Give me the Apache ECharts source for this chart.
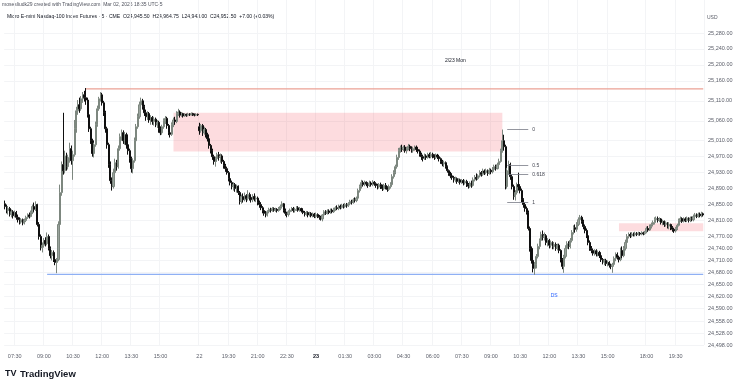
<!DOCTYPE html>
<html><head><meta charset="utf-8">
<script src="https://cdn.jsdelivr.net/npm/echarts@6/dist/echarts.min.js"></script>
<style>html,body{margin:0;padding:0;background:#fff}#c{width:740px;height:386px}</style>
</head><body><div id="c"></div>
<script>
// ---- sessions (5-minute bars) ----
const sessions = [
  {day:'2/20', start:'07:00', bars:120},
  {day:'2/22', start:'18:00', bars:72},
  {day:'2/23', start:'00:00', bars:204},
  {day:'2/23', start:'18:00', bars:36}
];
const categories = [];
sessions.forEach(s => {
  const [h0, m0] = s.start.split(':').map(Number);
  for (let k = 0; k < s.bars; k++) {
    const t = h0 * 60 + m0 + k * 5;
    const hh = String(Math.floor(t / 60)).padStart(2, '0'), mm = String(t % 60).padStart(2, '0');
    categories.push(s.day + ' ' + hh + ':' + mm);
  }
});

// x tick labels
const tickCats = ['2/20 07:30','2/20 09:00','2/20 10:30','2/20 12:00','2/20 13:30','2/20 15:00','2/22 18:00','2/22 19:30','2/22 21:00','2/22 22:30','2/23 00:00','2/23 01:30','2/23 03:00','2/23 04:30','2/23 06:00','2/23 07:30','2/23 09:00','2/23 10:30','2/23 12:00','2/23 13:30','2/23 15:00','2/23 18:00','2/23 19:30'];
const tickTexts = ['07:30','09:00','10:30','12:00','13:30','15:00','22','19:30','21:00','22:30','23','01:30','03:00','04:30','06:00','07:30','09:00','10:30','12:00','13:30','15:00','18:00','19:30'];
const boldTicks = ['23'];

// y tick labels
const priceTicks = [25280,25240,25200,25160,25110,25060,25010,24970,24930,24890,24850,24810,24770,24740,24710,24680,24650,24620,24590,24558,24528,24498];

// ---- OHLC bars: [open, close, low, high] ----
const fridayBars = [
[24852,24845,24838,24860],[24845,24835,24828,24850],[24835,24840,24825,24846],[24840,24826,24820,24844],[24826,24832,24818,24838],
[24832,24822,24815,24836],[24822,24830,24818,24835],[24830,24818,24812,24834],[24818,24812,24805,24825],[24812,24806,24800,24818],
[24806,24812,24802,24816],[24812,24804,24798,24815],[24804,24810,24800,24815],[24810,24818,24806,24822],[24818,24824,24814,24828],
[24824,24820,24815,24830],[24820,24830,24818,24835],[24830,24845,24826,24850],[24845,24838,24832,24855],[24838,24850,24834,24858],
[24850,24800,24795,24852],[24800,24770,24762,24806],[24770,24742,24735,24775],[24742,24748,24730,24755],[24748,24760,24742,24766],
[24760,24752,24745,24768],[24752,24770,24748,24780],[24770,24740,24735,24775],[24740,24722,24715,24745],[24722,24730,24710,24736],
[24730,24712,24706,24735],[24712,24705,24698,24718],[24705,24712,24678,24716],[24712,24800,24708,24808],[24800,24880,24795,24900],
[24880,24950,24872,24958],[24950,24935,24925,25080],[24935,24972,24928,24985],[24972,24945,24935,24980],[24945,24968,24938,24975],
[24968,24990,24955,25005],[24990,24960,24950,24998],[24960,24975,24912,24985],[24975,25040,24970,25062],[25040,25085,25030,25095],
[25085,25100,25075,25112],[25100,25090,25080,25118],[25090,25115,25085,25122],[25115,25125,25105,25132],[25125,25118,25108,25135],
[25118,25112,25100,25142],[25112,25075,25068,25118],[25075,25040,25032,25080],[25040,25010,25002,25045],[25010,24978,24970,25015],
[24978,25000,24968,25005],[25000,25050,24995,25058],[25050,25090,25045,25098],[25090,25115,25085,25120],[25115,25125,25108,25132],
[25125,25105,25098,25130],[25105,25080,25072,25110],[25080,25040,25030,25085],[25040,25000,24990,25045],[25000,24950,24942,25005],
[24950,24910,24902,24958],[24910,24895,24885,24918],[24895,24930,24890,24940],[24930,24955,24925,24965],[24955,24945,24935,24962],
[24945,24990,24940,24998],[24990,25020,24985,25028],[25020,25030,25010,25038],[25030,25010,25002,25036],[25010,25025,25000,25032],
[25025,25000,24990,25030],[25000,24985,24975,25008],[24985,24965,24955,24990],[24965,24940,24930,24970],[24940,24960,24928,24966],
[24960,25010,24955,25018],[25010,25045,25005,25052],[25045,25070,25040,25078],[25070,25100,25065,25108],[25100,25110,25095,25118],
[25110,25095,25088,25115],[25095,25080,25072,25100],[25080,25070,25060,25088],[25070,25078,25062,25084],[25078,25062,25055,25082],
[25062,25068,25050,25074],[25068,25058,25050,25072],[25058,25064,25048,25070],[25064,25050,25044,25068],[25050,25056,25042,25062],
[25056,25040,25030,25060],[25040,25030,25024,25046],[25030,25045,25025,25050],[25045,25060,25040,25066],[25060,25066,25052,25072],
[25066,25048,25040,25070],[25048,25030,25024,25052],[25030,25026,25018,25040],[25026,25050,25022,25056],[25050,25062,25044,25068],
[25062,25058,25050,25070],[25058,25078,25054,25084],[25078,25082,25072,25090],[25082,25074,25068,25086],[25074,25078,25070,25082],
[25078,25072,25068,25080],[25072,25076,25070,25079],[25076,25074,25070,25078],[25074,25077,25071,25080],[25077,25075,25072,25079],
[25075,25078,25073,25081],[25078,25076,25072,25080],[25076,25074,25071,25078],[25074,25076,25072,25079],[25076,25075,25072,25078]
];
const sundayBars = [
[25045,25035,25025,25055],[25035,25048,25030,25052],[25048,25030,25022,25052],[25030,25038,25025,25045],[25038,25025,25018,25042],
[25025,25015,25008,25030],[25015,24998,24990,25020],[24998,24985,24978,25002],[24985,24970,24962,24990],[24970,24958,24950,24975],
[24958,24965,24945,24970],[24965,24975,24958,24980],[24975,24968,24960,24982],[24968,24972,24955,24978],[24972,24958,24952,24976],
[24958,24948,24940,24962],[24948,24940,24932,24952],[24940,24930,24925,24945],[24930,24915,24908,24934],[24915,24905,24898,24920],
[24905,24895,24888,24910],[24895,24900,24885,24906],[24900,24890,24882,24904],[24890,24896,24880,24900],[24896,24880,24874,24898],
[24880,24858,24850,24884],[24858,24870,24852,24875],[24870,24862,24855,24878],[24862,24872,24858,24880],[24872,24865,24856,24876],
[24865,24875,24860,24886],[24875,24868,24860,24880],[24868,24862,24855,24874],[24862,24870,24856,24876],[24870,24864,24858,24878],
[24864,24866,24856,24872],[24866,24855,24848,24870],[24855,24850,24842,24860],[24850,24842,24836,24856],[24842,24835,24828,24846],
[24835,24828,24822,24840],[24828,24824,24818,24834],[24824,24832,24820,24836],[24832,24838,24828,24842],[24838,24835,24830,24842],
[24835,24840,24832,24844],[24840,24836,24832,24843],[24836,24838,24832,24842],[24838,24835,24830,24841],[24835,24840,24832,24844],
[24840,24845,24836,24850],[24845,24852,24840,24858],[24852,24835,24830,24854],[24835,24828,24822,24840],[24828,24825,24818,24832],
[24825,24832,24820,24836],[24832,24836,24826,24840],[24836,24840,24832,24844],[24840,24835,24830,24844],[24835,24838,24830,24842],
[24838,24842,24834,24846],[24842,24836,24832,24846],[24836,24840,24832,24844],[24840,24834,24830,24842],[24834,24830,24826,24838],
[24830,24826,24820,24834],[24826,24830,24822,24834],[24830,24824,24818,24833],[24824,24828,24820,24832],[24828,24822,24818,24831],
[24822,24826,24818,24830],[24826,24820,24816,24829]
];
const mondayBars = [
[24820,24825,24816,24830],[24825,24820,24816,24828],[24820,24818,24812,24824],[24818,24814,24810,24822],[24814,24824,24808,24826],
[24824,24832,24820,24836],[24832,24828,24824,24836],[24828,24834,24825,24838],[24834,24830,24826,24838],[24830,24836,24827,24840],
[24836,24832,24828,24840],[24832,24838,24829,24842],[24838,24842,24834,24846],[24842,24840,24836,24848],[24840,24846,24836,24850],
[24846,24843,24838,24850],[24843,24848,24840,24852],[24848,24845,24840,24852],[24845,24850,24842,24854],[24850,24847,24842,24854],
[24847,24852,24844,24856],[24852,24858,24848,24862],[24858,24855,24850,24862],[24855,24862,24852,24866],[24862,24860,24855,24868],
[24860,24866,24856,24870],[24866,24885,24862,24890],[24885,24895,24880,24900],[24895,24905,24890,24912],[24905,24900,24895,24910],
[24900,24906,24896,24910],[24906,24902,24896,24908],[24902,24898,24892,24906],[24898,24904,24894,24910],[24904,24900,24895,24908],
[24900,24906,24896,24911],[24906,24902,24897,24909],[24902,24898,24892,24906],[24898,24894,24888,24902],[24894,24900,24890,24904],
[24900,24895,24889,24905],[24895,24890,24884,24900],[24890,24898,24886,24902],[24898,24892,24888,24904],[24892,24888,24882,24896],
[24888,24895,24884,24900],[24895,24900,24890,24906],[24900,24920,24896,24926],[24920,24930,24915,24936],[24930,24945,24926,24950],
[24945,24968,24940,24975],[24968,24985,24962,24992],[24985,24992,24980,24998],[24992,24988,24982,25000],[24988,24994,24984,24998],
[24994,24985,24980,24999],[24985,24990,24978,24995],[24990,24996,24986,25002],[24996,24990,24984,25000],[24990,24985,24980,24996],
[24985,24990,24980,24995],[24990,24994,24985,24998],[24994,24988,24982,24998],[24988,24984,24978,24992],[24984,24976,24970,24988],
[24976,24970,24962,24980],[24970,24966,24958,24975],[24966,24972,24962,24978],[24972,24968,24962,24976],[24968,24975,24965,24980],
[24975,24970,24966,24980],[24970,24976,24966,24982],[24976,24972,24966,24980],[24972,24968,24962,24976],[24968,24974,24964,24978],
[24974,24970,24964,24977],[24970,24965,24958,24974],[24965,24958,24952,24968],[24958,24952,24946,24962],[24952,24955,24944,24960],
[24955,24945,24940,24958],[24945,24935,24930,24948],[24935,24928,24922,24938],[24928,24922,24916,24932],[24922,24918,24912,24926],
[24918,24912,24905,24922],[24912,24915,24906,24920],[24915,24908,24902,24918],[24908,24912,24904,24916],[24912,24906,24900,24915],
[24906,24910,24902,24914],[24910,24904,24898,24914],[24904,24908,24900,24912],[24908,24900,24894,24912],[24900,24896,24890,24904],
[24896,24904,24892,24908],[24904,24898,24892,24910],[24898,24912,24895,24918],[24912,24918,24908,24924],[24918,24915,24910,24928],
[24915,24922,24912,24926],[24922,24930,24918,24936],[24930,24926,24920,24934],[24926,24934,24922,24940],[24934,24930,24924,24938],
[24930,24935,24926,24940],[24935,24928,24922,24938],[24928,24936,24925,24942],[24936,24932,24926,24940],[24932,24938,24928,24944],
[24938,24945,24934,24950],[24945,24940,24935,24950],[24940,24950,24938,24955],[24950,24958,24945,24965],[24958,24985,24955,24990],
[24985,25010,24980,25038],[25010,24995,24985,25025],[24995,24895,24888,25000],[24895,24935,24890,24942],[24935,24950,24925,24960],
[24950,24920,24912,24955],[24920,24895,24888,24925],[24895,24870,24862,24900],[24870,24880,24860,24886],[24880,24900,24875,24905],
[24900,24895,24885,24930],[24895,24885,24878,24900],[24885,24862,24856,24890],[24862,24850,24842,24866],[24850,24840,24832,24855],
[24840,24830,24825,24845],[24830,24790,24785,24835],[24790,24740,24732,24795],[24740,24710,24702,24745],[24710,24690,24680,24716],
[24690,24700,24674,24706],[24700,24720,24690,24726],[24720,24745,24715,24752],[24745,24760,24738,24765],[24760,24775,24752,24782],
[24775,24768,24760,24785],[24768,24772,24760,24780],[24772,24755,24748,24776],[24755,24760,24745,24766],[24760,24748,24740,24764],
[24748,24755,24742,24760],[24755,24745,24738,24758],[24745,24750,24738,24756],[24750,24740,24734,24755],[24740,24748,24735,24752],
[24748,24735,24728,24752],[24735,24712,24705,24738],[24712,24695,24688,24716],[24695,24720,24679,24724],[24720,24740,24715,24748],
[24740,24752,24735,24758],[24752,24745,24738,24758],[24745,24760,24740,24766],[24760,24780,24755,24786],[24780,24792,24775,24798],
[24792,24788,24780,24800],[24788,24800,24782,24806],[24800,24812,24796,24818],[24812,24818,24806,24824],[24818,24808,24802,24822],
[24808,24795,24788,24812],[24795,24785,24778,24800],[24785,24772,24766,24790],[24772,24755,24748,24776],[24755,24740,24734,24760],
[24740,24735,24728,24746],[24735,24728,24722,24740],[24728,24734,24722,24738],[24734,24726,24720,24738],[24726,24730,24720,24735],
[24730,24722,24716,24734],[24722,24712,24706,24726],[24712,24706,24700,24716],[24706,24710,24698,24714],[24710,24702,24696,24714],
[24702,24705,24695,24710],[24705,24698,24692,24708],[24698,24695,24688,24702],[24695,24700,24679,24704],[24700,24715,24696,24720],
[24715,24725,24708,24730],[24725,24718,24712,24730],[24718,24712,24705,24722],[24712,24735,24708,24742],[24735,24722,24716,24745],
[24722,24740,24718,24746],[24740,24755,24735,24762],[24755,24770,24750,24776],[24770,24775,24765,24780],[24775,24772,24766,24780],
[24772,24776,24768,24781],[24776,24774,24770,24780],[24774,24778,24770,24782],[24778,24775,24771,24781],[24775,24778,24772,24782],
[24778,24776,24772,24781],[24776,24779,24773,24783],[24779,24777,24773,24782],[24777,24780,24774,24784]
];
const mondayEveningBars = [
[24782,24790,24778,24795],[24790,24786,24782,24796],[24786,24795,24784,24800],[24795,24800,24790,24805],[24800,24805,24795,24810],
[24805,24812,24800,24818],[24812,24815,24808,24820],[24815,24810,24805,24820],[24810,24814,24806,24818],[24814,24805,24800,24816],
[24805,24808,24798,24812],[24808,24800,24794,24810],[24800,24804,24795,24808],[24804,24796,24790,24806],[24796,24800,24788,24805],
[24800,24792,24786,24802],[24792,24788,24782,24796],[24788,24784,24779,24792],[24784,24790,24780,24794],[24790,24798,24786,24802],
[24798,24810,24795,24815],[24810,24815,24806,24820],[24815,24808,24804,24818],[24808,24814,24805,24818],[24814,24810,24806,24818],
[24810,24816,24806,24820],[24816,24810,24805,24818],[24810,24815,24806,24820],[24815,24812,24808,24820],[24812,24820,24808,24825],
[24820,24824,24815,24829],[24824,24820,24816,24828],[24820,24826,24817,24830],[24826,24822,24818,24830],[24822,24827,24818,24832],
[24827,24824,24820,24830]
];
const bars = fridayBars.concat(sundayBars, mondayBars, mondayEveningBars);

// ---- drawings (data coordinates: [barIndex, price]) ----
const resistanceLine = {from:50, price:25140};
const supportLine = {from:26, price:24675};
const supplyZone = {from:104, to:307, top:25080, bottom:24983};
const demandZone = {from:379, to:431, top:24803, bottom:24783};
const fibLevels = [{label:'0', price:25039},{label:'0.5', price:24947.5},{label:'0.618', price:24926},{label:'1', price:24856}];
const fibRange = {from:310, to:323};
const notes = [{text:'2/23 Mon', at:278, price:25212, color:'#131722'},{text:'DS', at:339, price:24621, color:'#2962ff'}];

const fmtPrice = v => Number(v).toLocaleString('en-US', {minimumFractionDigits:2, maximumFractionDigits:2});
const FONT = 'Liberation Sans, Arial, sans-serif';
const last = bars.length - 1;

// horizontal levels drawn as thin mark areas (1.2 px tall bands in data space)
const band = 1.5;

const chart = echarts.init(document.getElementById('c'), null, {renderer:'canvas'});
chart.setOption({
  animation: false,
  backgroundColor: '#ffffff',
  grid: {left: 4.19, right: 35.97, top: 0, bottom: 41},
  xAxis: {
    type: 'category', data: categories, boundaryGap: true,
    axisLine: {show: false}, axisTick: {show: false},
    axisLabel: {
      interval: (i, v) => tickCats.indexOf(v) >= 0,
      formatter: (v) => { const t = tickTexts[tickCats.indexOf(v)]; return boldTicks.indexOf(t) >= 0 ? '{b|' + t + '}' : t; },
      fontSize: 5.5, color: '#5d606b', margin: 8, fontFamily: FONT,
      rich: {b: {fontSize: 5.5, fontWeight: 'bold', color: '#131722', fontFamily: FONT}}
    },
    splitLine: {show: true, interval: (i, v) => tickCats.indexOf(v) >= 0, lineStyle: {color: '#f3f4f6', width: 1}}
  },
  yAxis: {
    type: 'value', position: 'right', min: 24498, max: 25362.7, scale: true,
    axisLine: {show: false},
    axisTick: {show: false, customValues: priceTicks},
    axisLabel: {customValues: priceTicks, formatter: fmtPrice, fontSize: 5.5, color: '#5d606b', margin: 4, fontFamily: FONT},
    splitLine: {show: true, lineStyle: {color: '#f3f4f6', width: 1}}
  },
  series: [
  {
    type: 'candlestick', data: bars, barWidth: 1.6,
    itemStyle: {color: '#9aa39d', color0: '#0f0f0f', borderColor: '#7d877f', borderColor0: '#0f0f0f', borderWidth: 1},
    markArea: {
      silent: true,
      data: [
        [{coord: [supplyZone.from, supplyZone.top], itemStyle: {color: 'rgba(247,82,95,0.2)'}}, {coord: [supplyZone.to, supplyZone.bottom]}],
        [{coord: [demandZone.from, demandZone.top], itemStyle: {color: 'rgba(247,82,95,0.2)'}}, {coord: [demandZone.to, demandZone.bottom]}],
        [{coord: [resistanceLine.from, resistanceLine.price + band], itemStyle: {color: '#eba195', opacity: 1}}, {coord: [last, resistanceLine.price - band]}],
        [{coord: [supportLine.from, supportLine.price + band], itemStyle: {color: '#8fb0f4', opacity: 1}}, {coord: [last, supportLine.price - band]}]
      ]
    },
    markLine: {
      silent: true, symbol: ['none', 'none'], animation: false,
      lineStyle: {type: 'solid', width: 0.8, color: '#787b86'},
      data: fibLevels.map(f => [
        {coord: [fibRange.from, f.price],
         label: {show: true, position: 'end', formatter: f.label, fontSize: 5, color: '#434651', distance: 4, fontFamily: FONT}},
        {coord: [fibRange.to, f.price]}
      ])
    },
    markPoint: {
      silent: true, symbol: 'circle', symbolSize: 0,
      data: notes.map(n => ({coord: [n.at, n.price], label: {show: true, position: 'inside', formatter: n.text, fontSize: 5, color: n.color, fontFamily: FONT}}))
    }
  }],
  graphic: [
    {type: 'text', x: 2, y: 5, style: {text: 'mosesliudk29 created with TradingView.com, Mar 02, 2026 18:35 UTC-5', fontSize: 5, fontFamily: FONT, fill: '#50535e', verticalAlign: 'middle'}},
    {type: 'text', x: 7, y: 17, style: {text: 'Micro E-mini Nasdaq-100 Index Futures · 5 · CME  O24,945.50  H24,964.75  L24,943.00  C24,952.50  +7.00 (+0.03%)', fontSize: 5.1, fontFamily: FONT, fill: '#131722', verticalAlign: 'middle'}},
    {type: 'text', x: 707, y: 18, style: {text: 'USD', fontSize: 5, fontFamily: FONT, fill: '#5d606b', verticalAlign: 'middle'}},
    {type: 'text', x: 5, y: 374, style: {text: 'TV', fontSize: 9, fontWeight: 'bold', fontFamily: FONT, fill: '#131722', verticalAlign: 'middle'}},
    {type: 'text', x: 20, y: 374, style: {text: 'TradingView', fontSize: 9.5, fontWeight: 'bold', fontFamily: FONT, fill: '#131722', verticalAlign: 'middle'}}
  ]
});
</script></body></html>
